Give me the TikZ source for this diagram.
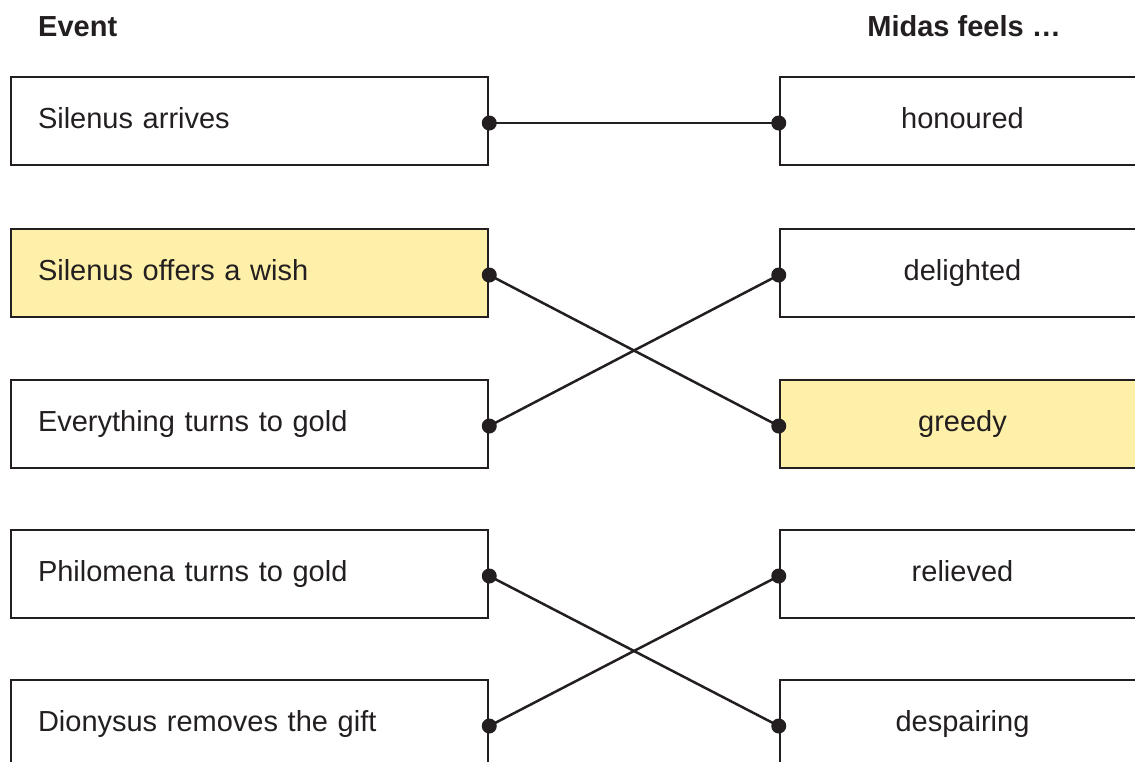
\documentclass[tikz,border=0pt]{standalone}
\usepackage{fontspec}
\setmainfont{Liberation Sans}
\definecolor{hl}{HTML}{FEF0A8}
\definecolor{ink}{HTML}{231F20}
\begin{document}
\begin{tikzpicture}[x=1pt,y=-1pt,
  boxtext/.style={font=\fontsize{29}{34}\selectfont,text=ink,text height=21pt,text depth=6pt},
  lbox/.style={boxtext,draw=ink,line width=2.5pt,minimum height=88pt,text width=423pt,inner xsep=27pt,align=left},
  rbox/.style={boxtext,draw=ink,line width=2.5pt,minimum height=88pt,minimum width=365pt,align=center},
  head/.style={font=\fontsize{29}{34}\selectfont\bfseries,text=ink,inner sep=0pt},
  link/.style={draw=ink,line width=2.5pt},
  dot/.style={fill=ink,circle,inner sep=0pt,minimum size=15pt}]
\useasboundingbox (0,0) rectangle (1135,761);
\node[head,anchor=base west] (h1) at (38,36) {Event};
\node[head,anchor=base east] (h2) at (1061,36) {Midas feels …};
\node[lbox] (l1) at (249.5,121) {Silenus arrives};
\node[lbox,fill=hl] (l2) at (249.5,273) {Silenus offers a wish};
\node[lbox] (l3) at (249.5,424) {Everything turns to gold};
\node[lbox] (l4) at (249.5,574) {Philomena turns to gold};
\node[lbox] (l5) at (249.5,724) {Dionysus removes the gift};
\node[rbox] (r1) at (962.5,121) {honoured};
\node[rbox] (r2) at (962.5,273) {delighted};
\node[rbox,fill=hl] (r3) at (962.5,424) {greedy};
\node[rbox] (r4) at (962.5,574) {relieved};
\node[rbox] (r5) at (962.5,724) {despairing};
\coordinate (l1p) at ([yshift=-2pt]l1.east);
\coordinate (l2p) at ([yshift=-2pt]l2.east);
\coordinate (l3p) at ([yshift=-2pt]l3.east);
\coordinate (l4p) at ([yshift=-2pt]l4.east);
\coordinate (l5p) at ([yshift=-2pt]l5.east);
\coordinate (r1p) at ([yshift=-2pt]r1.west);
\coordinate (r2p) at ([yshift=-2pt]r2.west);
\coordinate (r3p) at ([yshift=-2pt]r3.west);
\coordinate (r4p) at ([yshift=-2pt]r4.west);
\coordinate (r5p) at ([yshift=-2pt]r5.west);
\draw[link] (l1p) -- (r1p);
\draw[link] (l2p) -- (r3p);
\draw[link] (l3p) -- (r2p);
\draw[link] (l4p) -- (r5p);
\draw[link] (l5p) -- (r4p);
\foreach \n in {l1,l2,l3,l4,l5,r1,r2,r3,r4,r5}{\node[dot] at (\n p) {};}
\end{tikzpicture}
\end{document}
